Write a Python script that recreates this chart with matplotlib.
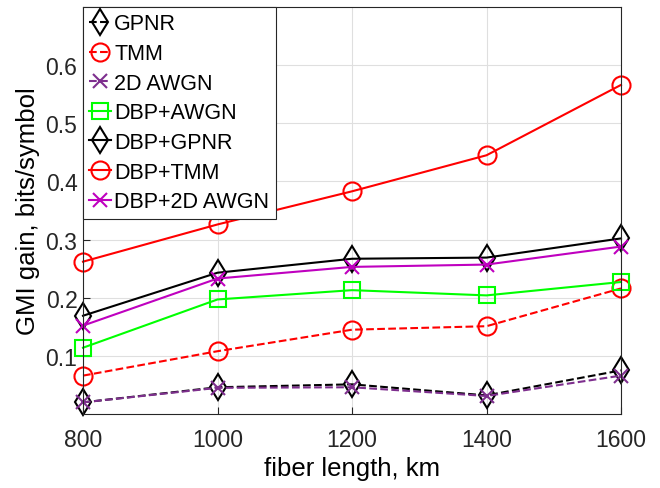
import matplotlib
matplotlib.use("Agg")
import matplotlib.pyplot as plt

plt.rcParams['font.family'] = ['Liberation Sans', 'DejaVu Sans']

lengths = [800, 1000, 1200, 1400, 1600]
gpnr = [0.020, 0.046, 0.051, 0.032, 0.075]
tmm = [0.066, 0.108, 0.145, 0.151, 0.216]
awgn2d = [0.020, 0.045, 0.046, 0.031, 0.066]
dbp_awgn = [0.114, 0.197, 0.213, 0.204, 0.227]
dbp_gpnr = [0.169, 0.243, 0.267, 0.269, 0.302]
dbp_tmm = [0.262, 0.326, 0.383, 0.445, 0.566]
dbp_awgn2d = [0.152, 0.233, 0.253, 0.257, 0.288]

yticks = [0.1, 0.2, 0.3, 0.4, 0.5, 0.6]
xticks = [800, 1000, 1200, 1400, 1600]

fig = plt.figure(figsize=(6.6, 4.89), dpi=100)
ax = fig.add_axes([83/660, 1-415/489, (621-83)/660, (415-8)/489])

ms = 13
mew = 1.5
lw = 1.5
common = dict(mfc='none', mew=mew, lw=lw, clip_on=False)
ax.plot(lengths, gpnr, '--', color='black', marker='d', ms=ms, label='GPNR', **common)
ax.plot(lengths, tmm, '--', color='red', marker='o', ms=ms, label='TMM', **common)
ax.plot(lengths, awgn2d, '--', color='#7E2F8E', marker='x', ms=10, label='2D AWGN', **common)
ax.plot(lengths, dbp_awgn, '-', color='#00FF00', marker='s', ms=11, label='DBP+AWGN', **common)
ax.plot(lengths, dbp_gpnr, '-', color='black', marker='d', ms=ms, label='DBP+GPNR', **common)
ax.plot(lengths, dbp_tmm, '-', color='red', marker='o', ms=ms, label='DBP+TMM', **common)
ax.plot(lengths, dbp_awgn2d, '-', color='#BF00BF', marker='x', ms=10, label='DBP+2D AWGN', **common)

ax.set_xlim(800, 1600)
ax.set_ylim(0, 0.7)
ax.set_xticks(xticks)
ax.set_yticks(yticks)
ax.set_xticklabels([str(v) for v in xticks])
ax.set_yticklabels([f'{v:.1f}' for v in yticks])
ax.grid(True, color='#DFDFDF', lw=0.8)
ax.set_axisbelow(True)
ax.tick_params(direction='in', length=5, labelsize=16.5, colors='#262626')
ax.tick_params(axis='x', pad=10)
ax.tick_params(axis='y', pad=4)
for s in ax.spines.values():
    s.set_color('#262626')
    s.set_linewidth(0.8)

ax.set_xlabel('fiber length, km', fontsize=18.5, color='black', labelpad=4)
ax.set_ylabel('GMI gain, bits/symbol', fontsize=18.5, color='black', labelpad=4)

leg = ax.legend(loc='upper left', fontsize=15.5, frameon=True, fancybox=False,
                edgecolor='#262626', framealpha=1, borderaxespad=0,
                handlelength=1.0, handletextpad=0.15, labelspacing=0.4,
                borderpad=0.3)
leg.get_frame().set_linewidth(0.8)
leg.set_zorder(5)

fig.savefig('out.png', dpi=100)
